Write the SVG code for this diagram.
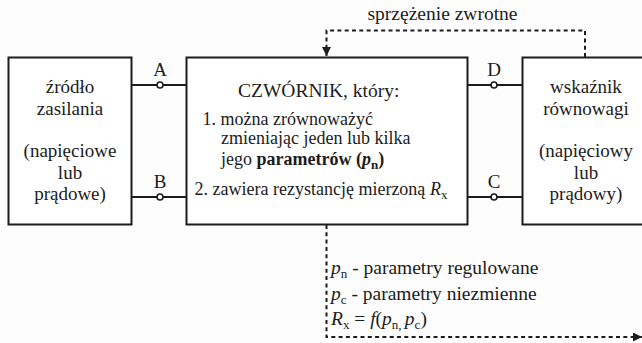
<svg xmlns="http://www.w3.org/2000/svg" width="642" height="343" viewBox="0 0 642 343">
  <style>
    text { font-family: "Liberation Serif", "Times New Roman", serif; fill: #1c1c1c; }
    .box { fill: #ffffff; stroke: #1c1c1c; stroke-width: 2; }
    .wire { stroke: #1c1c1c; stroke-width: 2; fill: none; }
    .term { fill: #ffffff; stroke: #1c1c1c; stroke-width: 1.6; }
    .dash { stroke: #1c1c1c; stroke-width: 2; fill: none; stroke-dasharray: 4 3.3; }
    .lbl { font-size: 19px; text-anchor: middle; }
    .big { font-size: 19.5px; }
    .item { font-size: 18px; }
    .sub { font-size: 13px; }
    .it { font-style: italic; }
    .b { font-weight: bold; }
  </style>
  <defs>
    <marker id="head" markerUnits="userSpaceOnUse" markerWidth="10" markerHeight="10" refX="9" refY="4.5" orient="auto">
      <path d="M0,0 L9,4.5 L0,9 Z" fill="#1c1c1c"/>
    </marker>
  </defs>

  <rect width="642" height="343" fill="#fdfdfd"/>

  <!-- connectors: wires with terminals and the dashed feedback paths -->
  <g id="connectors">
    <line class="wire" x1="131.5" y1="85" x2="186.5" y2="85"/>
    <line class="wire" x1="131.5" y1="197" x2="186.5" y2="197"/>
    <line class="wire" x1="467.5" y1="85" x2="522.5" y2="85"/>
    <line class="wire" x1="467.5" y1="197" x2="522.5" y2="197"/>
    <circle class="term" cx="160" cy="85" r="3"/>
    <circle class="term" cx="160" cy="197" r="3"/>
    <circle class="term" cx="494" cy="85" r="3"/>
    <circle class="term" cx="494" cy="197" r="3"/>
    <text class="lbl" x="160" y="76">A</text>
    <text class="lbl" x="160" y="188">B</text>
    <text class="lbl" x="494" y="76">D</text>
    <text class="lbl" x="494" y="188">C</text>

    <path class="dash" d="M585,57 V30.5 H326.5 V56" marker-end="url(#head)"/>
    <text class="big" x="442.5" y="19.5" text-anchor="middle">sprzężenie zwrotne</text>

    <path class="dash" d="M326.5,225 V337 H642" marker-end="url(#head)"/>
  </g>

  <!-- power source -->
  <g id="source">
    <rect class="box" x="8.5" y="57.5" width="123" height="167"/>
    <text class="lbl" x="70" y="93">źródło</text>
    <text class="lbl" x="70" y="114.5">zasilania</text>
    <text class="lbl" x="70" y="157">(napięciowe</text>
    <text class="lbl" x="70" y="178.5">lub</text>
    <text class="lbl" x="70" y="200">prądowe)</text>
  </g>

  <!-- four-terminal network -->
  <g id="quadripole">
    <rect class="box" x="186.5" y="57.5" width="281" height="167"/>
    <text class="big" x="238" y="97">CZWÓRNIK, który:</text>
    <text class="item" x="202.5" y="124.5">1. można zrównoważyć</text>
    <text class="item" x="221" y="144">zmieniając jeden lub kilka</text>
    <text class="item" x="221" y="165">jego <tspan class="b">parametrów (<tspan class="it">p</tspan><tspan class="sub" dy="4">n</tspan><tspan dy="-4">)</tspan></tspan></text>
    <text class="item" x="194.5" y="195">2. zawiera rezystancję mierzoną <tspan class="it">R</tspan><tspan class="sub" dy="4">x</tspan></text>
  </g>

  <!-- balance indicator -->
  <g id="indicator">
    <rect class="box" x="522.5" y="57.5" width="130" height="167"/>
    <text class="lbl" x="586" y="93">wskaźnik</text>
    <text class="lbl" x="586" y="114.5">równowagi</text>
    <text class="lbl" x="586" y="157">(napięciowy</text>
    <text class="lbl" x="586" y="178.5">lub</text>
    <text class="lbl" x="586" y="200">prądowy)</text>
  </g>

  <!-- legend -->
  <g id="legend">
    <text class="big" x="331" y="274"><tspan class="it">p</tspan><tspan class="sub" dy="4">n</tspan><tspan dy="-4"> - parametry regulowane</tspan></text>
    <text class="big" x="331" y="299.5"><tspan class="it">p</tspan><tspan class="sub" dy="4">c</tspan><tspan dy="-4"> - parametry niezmienne</tspan></text>
    <text class="big" x="331" y="325"><tspan class="it">R</tspan><tspan class="sub" dy="4">x</tspan><tspan dy="-4"> = </tspan><tspan class="it">f</tspan>(<tspan class="it">p</tspan><tspan class="sub" dy="4">n</tspan><tspan class="sub">, </tspan><tspan class="it" dy="-4">p</tspan><tspan class="sub" dy="4">c</tspan><tspan dy="-4">)</tspan></text>
  </g>
</svg>
